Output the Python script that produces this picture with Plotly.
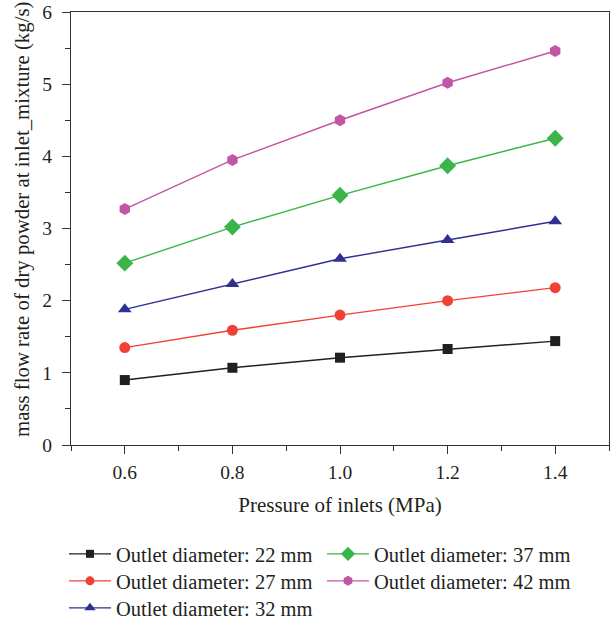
import plotly.graph_objects as go

pressure = [0.6, 0.8, 1.0, 1.2, 1.4]
d22 = [0.90, 1.07, 1.21, 1.33, 1.44]
d27 = [1.35, 1.59, 1.80, 2.00, 2.18]
d32 = [1.88, 2.23, 2.58, 2.84, 3.10]
d37 = [2.52, 3.02, 3.46, 3.87, 4.25]
d42 = [3.27, 3.95, 4.50, 5.02, 5.46]

names = ["Outlet diameter: 22 mm", "Outlet diameter: 27 mm", "Outlet diameter: 32 mm",
         "Outlet diameter: 37 mm", "Outlet diameter: 42 mm"]
series = [d22, d27, d32, d37, d42]
colors = ["#231f20", "#ef4136", "#2e3192", "#39b54a", "#c355a5"]
symbols = ["square", "circle", "triangle-up", "diamond", "hexagon"]
sizes = [10, 11, 12, 13, 12]
leg_sizes = [8, 9, 10, 11, 10]
legend_ids = ["legend", "legend2", "legend3", "legend4", "legend5"]
# legend entry anchor positions in pixels (left, row centre)
leg_px_x = [64, 64, 64, 322, 322]
leg_px_y = [555, 582, 609, 555, 582]

x_title = "Pressure of inlets (MPa)"
y_title = "mass flow rate of dry powder at inlet_mixture (kg/s)"

FONT = "Liberation Serif"
TXT = "#231f20"

fig = go.Figure()
for i in range(5):
    fig.add_trace(go.Scatter(
        x=pressure, y=series[i], name=names[i], mode="lines+markers",
        line=dict(color=colors[i], width=1.4),
        marker=dict(color=colors[i], symbol=symbols[i], size=sizes[i]),
        showlegend=False,
    ))
# legend-only entries (smaller symbols, as in the reference legend)
for i in range(5):
    fig.add_trace(go.Scatter(
        x=[None], y=[None], name=names[i], mode="lines+markers",
        line=dict(color=colors[i], width=1.4),
        marker=dict(color=colors[i], symbol=symbols[i], size=leg_sizes[i]),
        legend=legend_ids[i], showlegend=True,
    ))

axis_common = dict(
    showline=True, linecolor="#333333", linewidth=1.3, mirror=True,
    ticks="outside", ticklen=8, tickwidth=1.3, tickcolor="#333333",
    showgrid=False, zeroline=False, automargin=False,
    tickfont=dict(family=FONT, size=19.5, color=TXT),
)

fig.update_xaxes(range=[0.5, 1.5], dtick=0.2, tick0=0.6, tickformat=".1f",
                 minor=dict(dtick=0.1, tick0=0.5, ticks="outside", ticklen=5, tickwidth=1.3, tickcolor="#333333"),
                 title=dict(text=x_title, font=dict(family=FONT, size=21, color=TXT)),
                 ticklabelstandoff=1,
                 **axis_common)
fig.update_yaxes(range=[0, 6], dtick=1,
                 minor=dict(dtick=0.5, ticks="outside", ticklen=5, tickwidth=1.3, tickcolor="#333333"),
                 ticklabelstandoff=6,
                 **axis_common)

fig.add_annotation(text=y_title, textangle=-90, showarrow=False,
                   xref="paper", yref="paper", x=(22 - 71) / 538, y=(445 - 219) / 433,
                   xanchor="center", yanchor="middle",
                   font=dict(family=FONT, size=20.8, color=TXT))

leg_common = dict(font=dict(family=FONT, size=20.5, color=TXT), orientation="v",
                  xanchor="left", yanchor="top", tracegroupgap=0, itemwidth=42,
                  xref="container", yref="container",
                  bgcolor="rgba(0,0,0,0)", borderwidth=0)
legend_layout = {}
for i, lid in enumerate(legend_ids):
    legend_layout[lid] = dict(x=leg_px_x[i] / 610, y=1 - (leg_px_y[i] - 21) / 629, **leg_common)

fig.update_layout(
    width=610, height=629,
    margin=dict(l=71, r=1, t=12, b=184, autoexpand=False),
    plot_bgcolor="white", paper_bgcolor="white",
    **legend_layout,
)

fig.write_html("out.html")
